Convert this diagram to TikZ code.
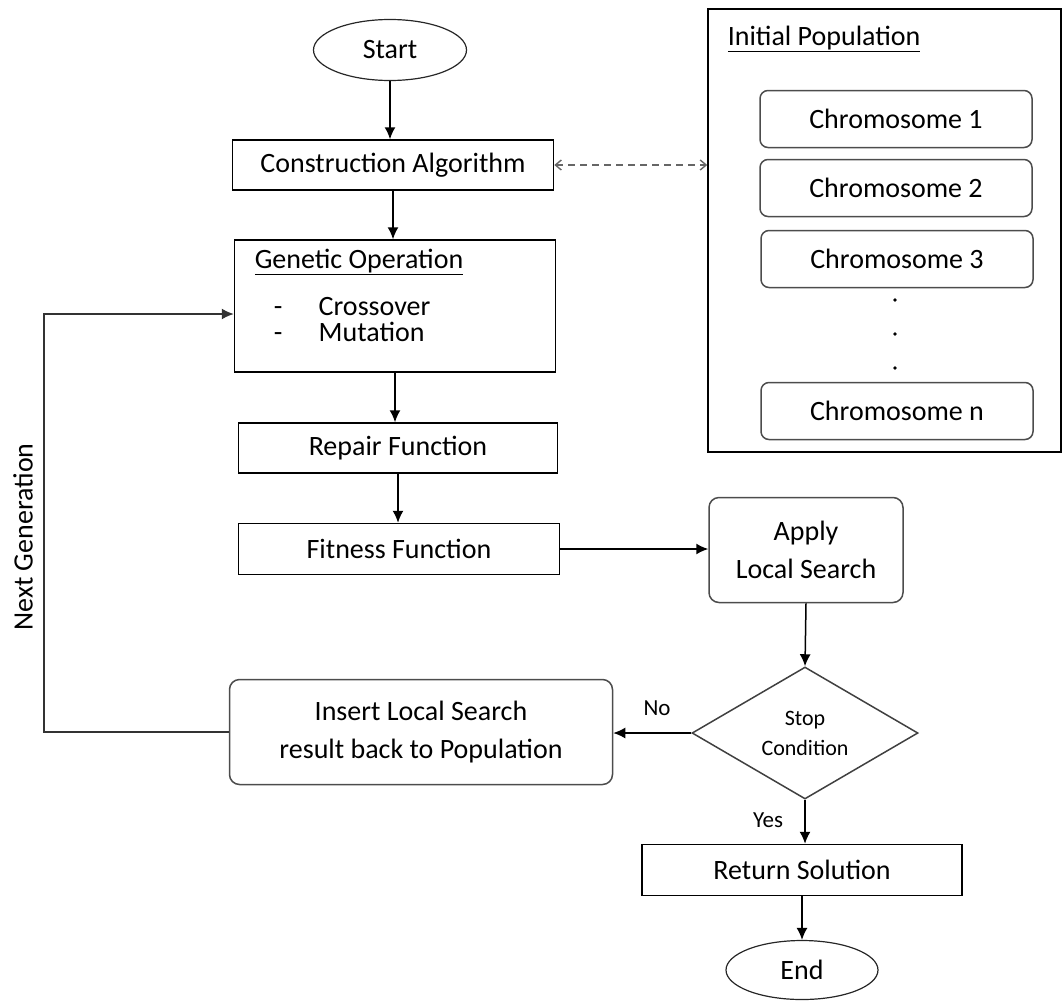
\documentclass[tikz,border=0pt]{standalone}
\usepackage{fontspec}
\setmainfont{Carlito}
\usetikzlibrary{shapes.geometric,arrows.meta}
\begin{document}
\begin{tikzpicture}[x=1pt,y=-1pt,line width=1.5pt,>={Latex[length=12pt,width=11pt]},
  font=\fontsize{28}{32}\selectfont,
  box/.style={draw,rectangle,inner sep=0pt},
  rbox/.style={draw=black!70,rectangle,rounded corners=10pt,inner sep=0pt,align=center,font=\fontsize{28}{38}\selectfont},
  term/.style={draw=black!85,ellipse,inner sep=0pt,line width=1.2pt}]
\useasboundingbox (0,0) rectangle (1064,1001);
% main column
\node[term,minimum width=153pt,minimum height=61pt] (start) at (390,50) {Start};
\node[box,minimum width=321pt,minimum height=50pt] (cons) at (393,165) {Construction Algorithm};
\node[box,minimum width=321pt,minimum height=132pt] (gen) at (395,306) {};
\node[anchor=base west,inner sep=0pt] (gentitle) at (254,268) {\underline{Genetic Operation}};
\node[anchor=north west,inner sep=0pt,align=left,font=\fontsize{28}{26}\selectfont] (ops) at (273,297)
  {\makebox[45pt][l]{-}Crossover\\\makebox[45pt][l]{-}Mutation};
\node[box,minimum width=319pt,minimum height=50pt] (repair) at (398,448) {Repair Function};
\node[box,minimum width=321pt,minimum height=51pt] (fit) at (399,549) {Fitness Function};
\node[rbox,minimum width=194pt,minimum height=105pt] (apply) at (806,550) {Apply\\Local Search};
\node[draw=black!75,diamond,aspect=1.7,inner sep=0pt,minimum width=226pt,minimum height=132pt,
  align=center,font=\fontsize{22}{30}\selectfont] (stop) at (805,733) {Stop\\Condition};
\node[rbox,minimum width=383pt,minimum height=105pt] (insert) at (421,732) {Insert Local Search\\result back to Population};
\node[box,minimum width=320pt,minimum height=51pt] (ret) at (802,870) {Return Solution};
\node[term,minimum width=152pt,minimum height=59pt] (end) at (802,970) {End};
\node[font=\fontsize{23}{28}\selectfont] (no) at (657,708) {No};
\node[font=\fontsize{23}{28}\selectfont] (yes) at (768,820) {Yes};
\node[rotate=90] (nextgen) at (23,537) {Next Generation};
% population
\node[box,minimum width=353pt,minimum height=443pt] (pop) at (884.5,230.5) {};
\node[anchor=base west,inner sep=0pt] (poptitle) at (727,45) {\underline{Initial Population}};
\node[rbox,rounded corners=8pt,minimum width=272pt,minimum height=57pt] (c1) at (896,119) {Chromosome 1};
\node[rbox,rounded corners=8pt,minimum width=272pt,minimum height=57pt] (c2) at (896,188) {Chromosome 2};
\node[rbox,rounded corners=8pt,minimum width=272pt,minimum height=57pt] (c3) at (897,259) {Chromosome 3};
\node[rbox,rounded corners=8pt,minimum width=272pt,minimum height=57pt] (cn) at (897,411) {Chromosome n};
\foreach \y in {300,334,368}
  \fill (895,\y) circle (1.8pt);
% connectors
\draw[->] (start.south) -- (start.south |- cons.north);
\draw[->] (cons.south) -- (cons.south |- gen.north);
\draw[->] (gen.south) -- (gen.south |- repair.north);
\draw[->] (repair.south) -- (repair.south |- fit.north);
\draw[->] (fit.east) -- (fit.east -| apply.west);
\draw[->] (apply.south) -- (stop.north);
\draw[->] (stop.west) -- (stop.west -| insert.east);
\draw[->] (stop.south) -- (stop.south |- ret.north);
\draw[->] (ret.south) -- (ret.south |- end.north);
\coordinate (back) at (44,314);
\draw[->,black!80] (insert.west) -| (back) -- (back -| gen.west);
\draw[dash pattern=on 7pt off 5pt,black!60,line width=1.4pt,{Straight Barb[length=6pt,width=10pt]}-{Straight Barb[length=6pt,width=10pt]}]
  (cons.east) -- (cons.east -| pop.west);
\end{tikzpicture}
\end{document}
